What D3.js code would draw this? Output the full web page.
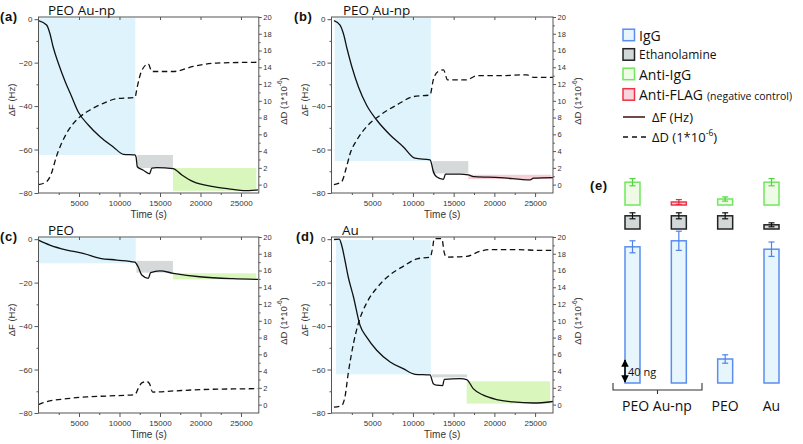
<!DOCTYPE html>
<html><head><meta charset="utf-8">
<script src="https://cdn.jsdelivr.net/npm/d3@7"></script>
<style>body{margin:0;background:#fff}svg{display:block}</style>
</head><body><svg id="chart" width="803" height="444"></svg>
<script>
// ---------- data ----------
const timeTicks = [5000, 10000, 15000, 20000, 25000];
const timeMinor = [2500, 7500, 12500, 17500, 22500];
const freqTicks = [0, -20, -40, -60, -80];
const freqMinor = [-10, -30, -50, -70];
const dissTicks = [0, 2, 4, 6, 8, 10, 12, 14, 16, 18, 20];
const dissMinor = [1, 3, 5, 7, 9, 11, 13, 15, 17, 19];

// panel (a) PEO Au-np
const aFreqTime = [0,1000,1400,1800,2450,3300,4100,4900,6150,7600,9200,10500,11900,12050,12200,12900,13700,14000,14600,16600,17700,19100,21600,24000,25300,27100];
const aFreq = [-0.7,-2.7,-6.5,-12.7,-20.3,-28.8,-35.7,-42.6,-48.7,-54.1,-58.7,-62.2,-62.5,-63.5,-67.9,-69.4,-71.2,-68.6,-68.3,-68.8,-71.7,-74.8,-77.1,-78.3,-78.9,-78.6];
const aDissTime = [0,1000,1600,2200,2850,3700,4900,6350,8000,9650,11900,12200,12700,13550,14000,16650,19100,22000,27100];
const aDiss = [0.0,0.35,1.35,3.33,4.93,6.5,7.9,8.9,9.7,10.25,10.4,11.7,13.5,14.4,13.5,13.5,14.1,14.5,14.6];
const aRegions = [["IgG",0,11950,0.5,-62.5],["Ethanolamine",12200,16600,-62.5,-68.5],["Anti-IgG",16600,26900,-68.5,-79]];

// panel (b) PEO Au-np
const bFreqTime = [300,1050,1450,1950,2500,3300,4300,5550,7200,8800,10250,12100,12250,12450,12900,13750,14000,15800,16800,17600,20700,24400,24800,27200];
const bFreq = [-0.7,-2.7,-6.5,-14.2,-21.9,-31.1,-39.5,-46.4,-53.3,-58.7,-64.0,-64.8,-66.0,-69.4,-72.5,-73.7,-71.3,-71.3,-71.7,-72.5,-72.9,-74.0,-73.2,-72.9];
const bDissTime = [300,1250,1800,2300,3100,4300,6000,8000,10050,12100,12500,13100,13750,14250,16600,17850,20700,24000,24800,27200];
const bDiss = [0.0,0.35,1.95,3.74,5.3,6.9,8.3,9.5,10.5,10.7,12.5,13.5,13.7,12.5,12.5,13.0,13.0,13.1,12.8,12.8];
const bRegions = [["IgG",400,12200,0.5,-65.3],["Ethanolamine",12400,16800,-65.3,-71],["Anti-FLAG",16800,27000,-71.6,-73.6]];

// panel (c) PEO
const cFreqTime = [0,1400,3500,5500,7600,9650,11900,12300,12750,13550,13850,15000,16650,19900,24000,27100];
const cFreq = [-0.4,-2.7,-5.0,-6.5,-8.8,-9.6,-10.6,-12.7,-16.5,-18.0,-15.4,-14.6,-15.7,-17.3,-18.2,-18.5];
const cDissTime = [0,600,3500,5950,8800,11900,12300,12750,13350,13700,14100,16650,19900,24000,27100];
const cDiss = [0.0,0.24,0.71,0.92,1.04,1.19,1.9,2.6,2.77,2.5,1.5,1.63,1.79,1.87,1.9];
const cRegions = [["IgG",0,12000,0.5,-11.1],["Ethanolamine",12100,16600,-10.0,-15.4],["Anti-IgG",16600,26900,-15.7,-18.5]];

// panel (d) Au
const dFreqTime = [300,950,1250,1650,2050,2700,3500,4300,5550,7200,8800,10250,12100,12500,12900,13650,13850,15800,16600,17400,18650,20300,22300,24800,27200];
const dFreq = [-0.15,0,-2.8,-9.7,-17.3,-26.6,-39.6,-45,-51.1,-56.5,-59.6,-62.2,-62.5,-66.5,-67.2,-67.4,-64.5,-64.2,-64.6,-68.8,-71.8,-73.8,-74.9,-75.4,-74.7];
const dDissTime = [300,1250,1650,2050,2700,3300,4300,5550,7200,8800,10500,12100,12450,12600,13550,13850,14150,16600,18250,19500,22750,25600,27200];
const dDiss = [-0.3,-0.1,0.9,3.7,7.3,9.7,12.1,13.9,15.5,16.5,17.4,17.6,18.9,19.8,19.8,18.1,17.6,17.7,18.3,18.5,18.5,18.4,18.4];
const dRegions = [["IgG",550,12200,-0.4,-62.2],["Ethanolamine",12350,16650,-62.2,-63.6],["Anti-IgG",16600,26850,-65.4,-75.7]];

// panel (e) adsorbed mass (ng)
const massSamples = ["PEO Au-np 1","PEO Au-np 2","PEO","Au"];
const iggMass = [227, 237, 40, 223];
const iggErr = [10, 16, 7, 12];
const ethMass = [22, 22, 22, 7];
const ethErr = [5, 5, 5, 3.3];
const antiMass = [38, 5, 10, 38];
const antiErr = [6, 4, 3.5, 6];
const antiKind = ["Anti-IgG","Anti-FLAG","Anti-IgG","Anti-IgG"];
const groupLabels = ["PEO Au-np","PEO","Au"];
const legendItems = ["IgG","Ethanolamine","Anti-IgG","Anti-FLAG"];

// ---------- styles ----------
const fillColor = {"IgG":"#def3fb","Ethanolamine":"#d5d9d9","Anti-IgG":"#d9f7bd","Anti-FLAG":"#f7cdd6"};
const barFill = {"IgG":"#e7f6fc","Ethanolamine":"#d2d7d7","Anti-IgG":"#effbe6","Anti-FLAG":"#f8d6dc"};
const barStroke = {"IgG":"#5b8def","Ethanolamine":"#222","Anti-IgG":"#6fe85e","Anti-FLAG":"#ee3346"};
const errStroke = {"IgG":"#4f83e8","Ethanolamine":"#111","Anti-IgG":"#4ed63c","Anti-FLAG":"#e42a3c"};
const TXT = "#333", AX = "#555";
const sans = "'Liberation Sans', Arial, sans-serif";
const title = "'Open Sans', sans-serif";

const svg = d3.select("#chart");

const panels = [
  {tag:"(a)", name:"PEO Au-np", ft:aFreqTime, f:aFreq, dt:aDissTime, d:aDiss, reg:aRegions, box:[38.5,258.8,17,193], tagX:0, nameX:48},
  {tag:"(b)", name:"PEO Au-np", ft:bFreqTime, f:bFreq, dt:bDissTime, d:bDiss, reg:bRegions, box:[331.5,553,17,193], tagX:294, nameX:343},
  {tag:"(c)", name:"PEO", ft:cFreqTime, f:cFreq, dt:cDissTime, d:cDiss, reg:cRegions, box:[38.5,258.8,237,413], tagX:0, nameX:48},
  {tag:"(d)", name:"Au", ft:dFreqTime, f:dFreq, dt:dDissTime, d:dDiss, reg:dRegions, box:[331.5,553,237,413], tagX:296, nameX:342}
];

panels.forEach((p, i) => {
  const [x0, x1, y0, y1] = p.box;
  const x = d3.scaleLinear().domain([0, 27200]).range([x0, x1]);
  const yF = d3.scaleLinear().domain([-80, 1]).range([y1, y0]);
  const yD = d3.scaleLinear().domain([-1, 20]).range([y1, y0]);
  const g = svg.append("g");
  const cid = "clip" + i;
  svg.append("clipPath").attr("id", cid).append("rect")
    .attr("x", x0).attr("y", y0).attr("width", x1 - x0).attr("height", y1 - y0);
  const plot = g.append("g").attr("clip-path", `url(#${cid})`);

  plot.selectAll("rect.reg").data(p.reg).join("rect")
    .attr("x", r => x(r[1])).attr("width", r => x(r[2]) - x(r[1]))
    .attr("y", r => yF(r[3])).attr("height", r => yF(r[4]) - yF(r[3]))
    .attr("fill", r => fillColor[r[0]]);

  const dissPts = p.dt.map((t, k) => [t, p.d[k]]);
  const freqPts = p.ft.map((t, k) => [t, p.f[k]]);
  plot.append("path").datum(dissPts)
    .attr("d", d3.line().x(d => x(d[0])).y(d => yD(d[1])).curve(d3.curveMonotoneX))
    .attr("fill", "none").attr("stroke", "#111").attr("stroke-width", 1.3).attr("stroke-dasharray", "5.5,3.5");
  plot.append("path").datum(freqPts)
    .attr("d", d3.line().x(d => x(d[0])).y(d => yF(d[1])).curve(d3.curveMonotoneX))
    .attr("fill", "none").attr("stroke", "#111").attr("stroke-width", 1.3);

  // frame
  g.append("rect").attr("x", x0).attr("y", y0).attr("width", x1 - x0).attr("height", y1 - y0)
    .attr("fill", "none").attr("stroke", AX).attr("stroke-width", 1);

  const style = (sel, fs) => {
    sel.select(".domain").remove();
    sel.selectAll("line").attr("stroke", AX);
    sel.selectAll("text").attr("fill", TXT).attr("font-family", sans).attr("font-size", fs);
  };
  // bottom axis
  g.append("g").attr("transform", `translate(0,${y1})`)
    .call(d3.axisBottom(x).tickValues(timeTicks).tickSize(4).tickPadding(3).tickFormat(d3.format("d")))
    .call(s => style(s, 8));
  g.append("g").attr("transform", `translate(0,${y1})`)
    .call(d3.axisBottom(x).tickValues(timeMinor).tickSize(2).tickFormat(""))
    .call(s => style(s, 8));
  // top ticks (inward)
  g.append("g").attr("transform", `translate(0,${y0})`)
    .call(d3.axisBottom(x).tickValues(timeTicks).tickSize(3).tickFormat(""))
    .call(s => style(s, 8));
  // left axis
  g.append("g").attr("transform", `translate(${x0},0)`)
    .call(d3.axisLeft(yF).tickValues(freqTicks).tickSize(4).tickPadding(2))
    .call(s => style(s, 8));
  g.append("g").attr("transform", `translate(${x0},0)`)
    .call(d3.axisLeft(yF).tickValues(freqMinor).tickSize(2).tickFormat(""))
    .call(s => style(s, 8));
  // right axis
  g.append("g").attr("transform", `translate(${x1},0)`)
    .call(d3.axisRight(yD).tickValues(dissTicks).tickSize(3).tickPadding(1.5))
    .call(s => style(s, 7.5));
  g.append("g").attr("transform", `translate(${x1},0)`)
    .call(d3.axisRight(yD).tickValues(dissMinor).tickSize(1.8).tickFormat(""))
    .call(s => style(s, 7.5));

  // axis titles
  g.append("text").attr("x", (x0 + x1) / 2).attr("y", y1 + 25).attr("text-anchor", "middle")
    .attr("font-family", sans).attr("font-size", 10).attr("fill", TXT).text("Time (s)");
  g.append("text").attr("transform", `translate(${x0 - 27},${y0 + 83}) rotate(-90)`)
    .attr("text-anchor", "middle").attr("dominant-baseline", "central")
    .attr("font-family", sans).attr("font-size", 9.5).attr("fill", TXT).text("ΔF (Hz)");
  const rt = g.append("text").attr("transform", `translate(${x1 + 24},${y0 + 84}) rotate(-90)`)
    .attr("text-anchor", "middle").attr("dominant-baseline", "central")
    .attr("font-family", sans).attr("font-size", 9.5).attr("fill", TXT);
  rt.append("tspan").text("ΔD (1*10");
  rt.append("tspan").attr("font-size", 6.5).attr("dy", -3.5).text("-6");
  rt.append("tspan").attr("dy", 3.5).text(")");

  // labels
  g.append("text").attr("x", p.tagX).attr("y", y0 + 4).attr("font-family", sans).attr("font-weight", "bold")
    .attr("font-size", 13).attr("letter-spacing", 0.6).attr("fill", "#111").text(p.tag);
  g.append("text").attr("x", p.nameX).attr("y", y0 - 2).attr("font-family", title)
    .attr("font-size", 13.5).attr("fill", "#111").text(p.name);
});

// ---------- panel (e) ----------
const eg = svg.append("g");
const bx = d3.scalePoint().domain(massSamples).range([632.5, 771.5]);
const mass = d3.scaleLinear().domain([0, 40]).range([0, 24]);
const barW = 15;
const layers = [
  {kind: i => "IgG", v: iggMass, e: iggErr, base: 383},
  {kind: i => "Ethanolamine", v: ethMass, e: ethErr, base: 229},
  {kind: i => antiKind[i], v: antiMass, e: antiErr, base: 205}
];
layers.forEach(L => {
  massSamples.forEach((s, i) => {
    const k = L.kind(i);
    const top = L.base - mass(L.v[i]);
    eg.append("rect").attr("x", bx(s) - barW / 2).attr("y", top).attr("width", barW)
      .attr("height", mass(L.v[i])).attr("fill", barFill[k]).attr("stroke", barStroke[k]).attr("stroke-width", 1.5);
    const e1 = top - mass(L.e[i]), e2 = top + mass(L.e[i]);
    const c = errStroke[k];
    eg.append("line").attr("x1", bx(s)).attr("x2", bx(s)).attr("y1", e1).attr("y2", e2).attr("stroke", c).attr("stroke-width", 1.2);
    [e1, e2].forEach(yy => eg.append("line").attr("x1", bx(s) - 3).attr("x2", bx(s) + 3)
      .attr("y1", yy).attr("y2", yy).attr("stroke", c).attr("stroke-width", 1.2));
  });
});
// 40 ng scale arrow
const arrowX = 625, arrowBase = 383;
svg.append("defs").html('<marker id="ah" viewBox="0 0 10 10" refX="9" refY="5" markerWidth="5" markerHeight="5" orient="auto-start-reverse"><path d="M0,0L10,5L0,10z" fill="#000"/></marker>');
eg.append("line").attr("x1", arrowX).attr("x2", arrowX).attr("y1", arrowBase - mass(40) + 1).attr("y2", arrowBase - 1)
  .attr("stroke", "#000").attr("stroke-width", 1.5).attr("marker-start", "url(#ah)").attr("marker-end", "url(#ah)");
eg.append("text").attr("x", 628).attr("y", 376).attr("font-family", title).attr("font-size", 11).attr("fill", "#111").text("40 ng");
// bracket
eg.append("path").attr("d", "M613,383V390H702V383M657.5,390V394").attr("fill", "none").attr("stroke", "#333").attr("stroke-width", 1.1);
const glx = [657, bx("PEO"), bx("Au")];
groupLabels.forEach((t, i) => eg.append("text").attr("x", glx[i]).attr("y", 411).attr("text-anchor", "middle")
  .attr("font-family", title).attr("font-size", 14).attr("fill", "#111").text(t));
eg.append("text").attr("x", 590).attr("y", 190).attr("font-family", sans).attr("font-weight", "bold")
  .attr("font-size", 13).attr("letter-spacing", 0.6).attr("fill", "#111").text("(e)");

// legend
const lgY = [35, 54.5, 74, 94.5];
const lgFont = [14, 12, 14, 14];
legendItems.forEach((k, i) => {
  eg.append("rect").attr("x", 623).attr("y", lgY[i] - 5.8).attr("width", 11.5).attr("height", 11.5)
    .attr("fill", barFill[k]).attr("stroke", barStroke[k]).attr("stroke-width", 1.5);
  eg.append("text").attr("x", 639).attr("y", lgY[i]).attr("dominant-baseline", "central")
    .attr("font-family", title).attr("font-size", lgFont[i]).attr("fill", "#111").text(k);
});
eg.append("text").attr("x", 707).attr("y", 96).attr("dominant-baseline", "central")
  .attr("font-family", title).attr("font-size", 10.5).attr("fill", "#111").text("(negative control)");
eg.append("line").attr("x1", 623).attr("x2", 645).attr("y1", 117).attr("y2", 117).attr("stroke", "#4a1c1c").attr("stroke-width", 1.6);
eg.append("text").attr("x", 652).attr("y", 117).attr("dominant-baseline", "central")
  .attr("font-family", title).attr("font-size", 13).attr("fill", "#111").text("ΔF (Hz)");
eg.append("line").attr("x1", 623).attr("x2", 647).attr("y1", 137).attr("y2", 137).attr("stroke", "#111")
  .attr("stroke-width", 1.5).attr("stroke-dasharray", "5,4");
const ld = eg.append("text").attr("x", 652).attr("y", 137).attr("dominant-baseline", "central")
  .attr("font-family", title).attr("font-size", 13).attr("fill", "#111");
ld.append("tspan").text("ΔD (1*10");
ld.append("tspan").attr("font-size", 8.5).attr("dy", -5).text("-6");
ld.append("tspan").attr("dy", 5).text(")");
</script></body></html>
